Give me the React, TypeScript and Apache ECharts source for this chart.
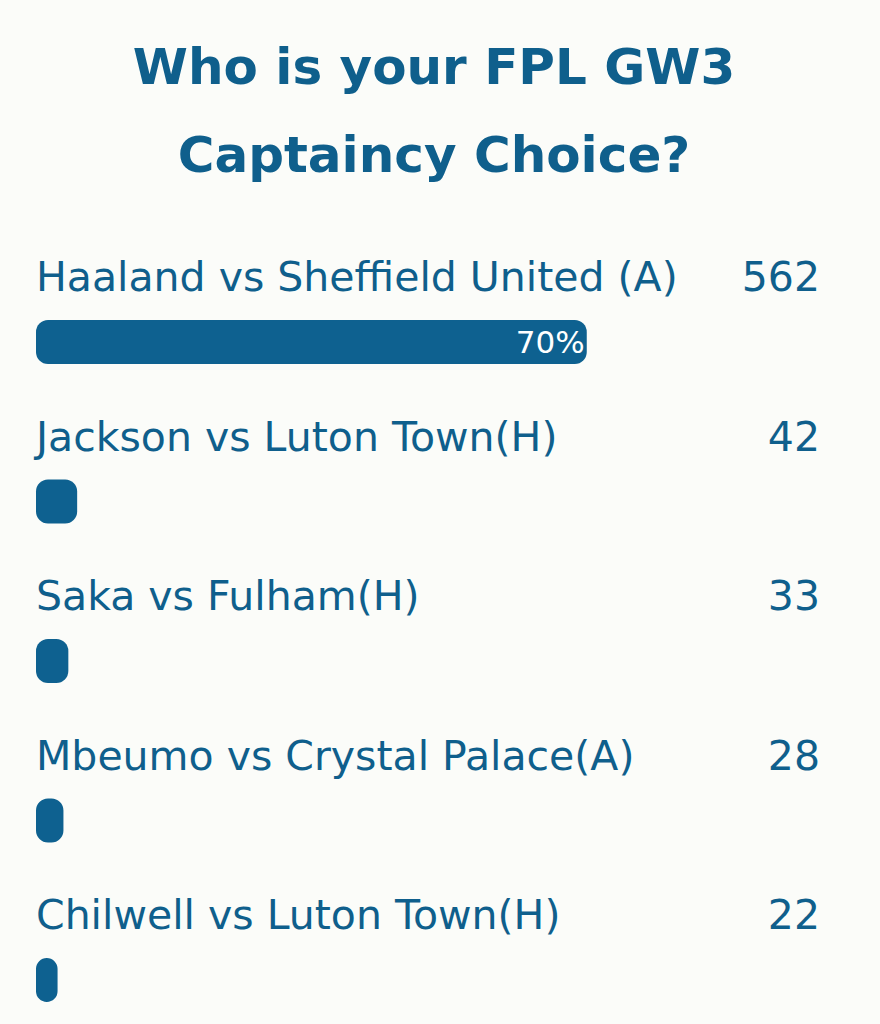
import React, { useEffect, useRef } from "react";
import * as echarts from "echarts";

const titleLines = ["Who is your FPL GW3", "Captaincy Choice?"];
const categories = [
  "Haaland vs Sheffield United (A)",
  "Jackson vs Luton Town(H)",
  "Saka vs Fulham(H)",
  "Mbeumo vs Crystal Palace(A)",
  "Chilwell vs Luton Town(H)",
];
const votes = [562, 42, 33, 28, 22];
const totalVotes = 800;

const TEXT = "#0f5f8c";
const BAR = "#0e6190";
const FONT = "'DejaVu Sans', 'Noto Sans', sans-serif";

export default function App() {
  const ref = useRef<HTMLDivElement>(null);
  useEffect(() => {
    document.body.style.margin = "0";
    const chart = echarts.init(ref.current!, null, { renderer: "svg" });
    chart.setOption({
      animation: false,
      backgroundColor: "#fbfcf9",
      title: {
        text: titleLines.join("\n"),
        left: 429,
        top: 18,
        textAlign: "center",
        textStyle: {
          fontSize: 50,
          fontWeight: "bold",
          color: TEXT,
          lineHeight: 88,
          fontFamily: FONT,
        },
      },
      grid: { left: 36, right: 60, top: 342, bottom: 44 },
      xAxis: { type: "value", min: 0, max: totalVotes, show: false },
      yAxis: {
        type: "category",
        data: categories,
        inverse: true,
        boundaryGap: false,
        show: false,
      },
      series: [
        {
          type: "bar",
          silent: true,
          data: categories.map(() => totalVotes),
          barWidth: 44,
          barGap: "-100%",
          itemStyle: { color: "transparent" },
          label: {
            show: true,
            position: [0, -43],
            align: "left",
            verticalAlign: "middle",
            formatter: "{b}",
            fontSize: 41,
            color: TEXT,
            fontFamily: FONT,
          },
        },
        {
          type: "bar",
          silent: true,
          data: categories.map(() => totalVotes),
          barWidth: 44,
          barGap: "-100%",
          itemStyle: { color: "transparent" },
          label: {
            show: true,
            position: ["100%", -43],
            align: "right",
            verticalAlign: "middle",
            formatter: (p: any) => String(votes[p.dataIndex]),
            fontSize: 41,
            color: TEXT,
            fontFamily: FONT,
          },
        },
        {
          type: "bar",
          data: votes,
          barWidth: 44,
          barGap: "-100%",
          itemStyle: { color: BAR, borderRadius: 12 },
          label: {
            show: true,
            position: "insideRight",
            distance: 2,
            formatter: (p: any) => {
              const pct = Math.round((p.value / totalVotes) * 100);
              return pct >= 10 ? pct + "%" : "";
            },
            fontSize: 31,
            color: "#ffffff",
            fontFamily: FONT,
          },
        },
      ],
    });
    return () => chart.dispose();
  }, []);
  return (
    <div
      ref={ref}
      style={{ position: "absolute", left: 0, top: 0, width: 880, height: 1024 }}
    />
  );
}
